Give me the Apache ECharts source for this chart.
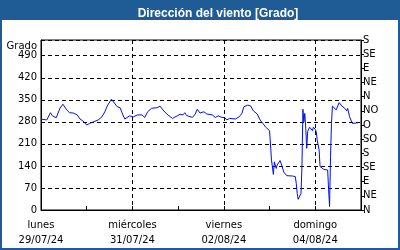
<!DOCTYPE html>
<html>
<head>
<meta charset="utf-8">
<script src="https://cdn.jsdelivr.net/npm/echarts@6/dist/echarts.min.js"></script>
<style>html,body{margin:0;padding:0;background:#1f5b95;}#c{width:400px;height:250px;}</style>
</head>
<body>
<div id="c"></div>
<script>
// hours since lunes 29/07/24 00:00
var hours = [0,1,3,5,6,8,10,11.5,13.5,15,17,19,20.5,22,24,25.5,27.5,30,32,33.5,35,37,38,40,41.5,43,44,45,46.5,48.5,50.5,53,54.5,56,58,59,61,62.5,64,66,69,71.5,73,74.5,75.5,76.5,77,79.5,81,82,83.5,85.5,87,90,91.5,93,95,96.5,97.5,99,102,104,105.5,106.5,108.5,110,111.5,113.5,115,116.5,118,119,120,121,122,122.5,123.5,124,125.5,126.5,127.5,129,132,133.5,134,134.5,135,136,136.5,137,137.5,138,138.5,139,139.5,140,141,142.5,143,144,144.5,145,146,146.5,147.5,148.5,149.5,150.5,151,151.5,152,152.5,153,155,156.5,158,159.5,160.5,161,162,163.5,164.5,166,166.5];
var direction = [289,289,286,309,299,293,324,336,318,309,308,302,289,283,270,275,280,286,296,312,333,352,346,328,325,302,289,288,299,296,302,302,294,312,323,318,325,330,318,305,291,299,304,302,309,300,302,294,305,320,308,312,305,302,294,299,294,294,286,291,289,296,307,328,333,331,315,305,286,275,263,259,252,159,113,153,132,143,157,140,120,109,108,106,85,53,34,32,53,138,320,280,307,259,196,249,263,252,263,256,249,222,191,138,132,129,132,127,64,11,169,275,330,318,341,330,323,315,323,296,275,280,277,277];
var xTickLabels = {0:'lunes\n29/07/24',48:'miércoles\n31/07/24',96:'viernes\n02/08/24',144:'domingo\n04/08/24'};
var leftTicks = [0,70,140,210,280,350,420,490];
var compassLabels = ['N','NE','E','SE','S','SO','O','NO','N','NE','E','SE','S'];

var data = hours.map(function(h,i){return [h,direction[i]];});
var chart = echarts.init(document.getElementById('c'), null, {renderer:'canvas'});
var font = 'DejaVu Sans';
chart.setOption({
  animation:false,
  backgroundColor:'#1f5b95',
  textStyle:{fontFamily:font},
  graphic:[
    {type:'rect',shape:{x:2,y:20,width:396,height:228},style:{fill:'#ffffff'},z:-10},
    {type:'text',x:37,y:46,style:{text:'Grado',fontFamily:font,fontSize:10,fill:'#000',align:'right',verticalAlign:'middle'}}
  ],
  title:{text:'Dirección del viento [Grado]',left:213,top:3,textAlign:'center',
    textStyle:{color:'#fff',fontSize:12,fontWeight:'bold',fontFamily:'Liberation Sans'}},
  grid:{left:41,right:39,top:40,bottom:40,show:true,borderColor:'#000',borderWidth:1,backgroundColor:'transparent'},
  xAxis:{type:'value',min:0,max:168,interval:48,
    axisLine:{show:true,lineStyle:{color:'#000'}},
    axisTick:{show:true,inside:true,length:4,lineStyle:{color:'#000'}},
    minorTick:{show:true,splitNumber:2,length:4,lineStyle:{color:'#000'}},
    splitLine:{show:true,lineStyle:{color:'#000',type:[4,3]}},
    axisLabel:{color:'#000',fontSize:10,fontFamily:font,lineHeight:15,margin:8,
      formatter:function(v){return xTickLabels[v]||'';}}
  },
  yAxis:[
    {type:'value',min:0,max:540,interval:70,position:'left',
      axisLine:{show:true,lineStyle:{color:'#000'}},
      axisTick:{show:false},
      splitLine:{show:true,lineStyle:{color:'#000',type:[4,3]}},
      axisLabel:{color:'#000',fontSize:10,fontFamily:font,margin:4,
        formatter:function(v){return leftTicks.indexOf(v)>=0?String(v):'';}}
    },
    {type:'value',min:0,max:540,interval:45,position:'right',
      axisLine:{show:true,lineStyle:{color:'#000'}},
      axisTick:{show:true,inside:false,length:3,lineStyle:{color:'#000'}},
      splitLine:{show:false},
      axisLabel:{color:'#000',fontSize:10,fontFamily:font,margin:2,
        formatter:function(v){return compassLabels[Math.round(v/45)];}}
    }
  ],
  series:[{type:'line',data:data,yAxisIndex:0,showSymbol:false,symbol:'none',
    lineStyle:{color:'#0010e8',width:1},z:5}]
});
</script>
</body>
</html>
